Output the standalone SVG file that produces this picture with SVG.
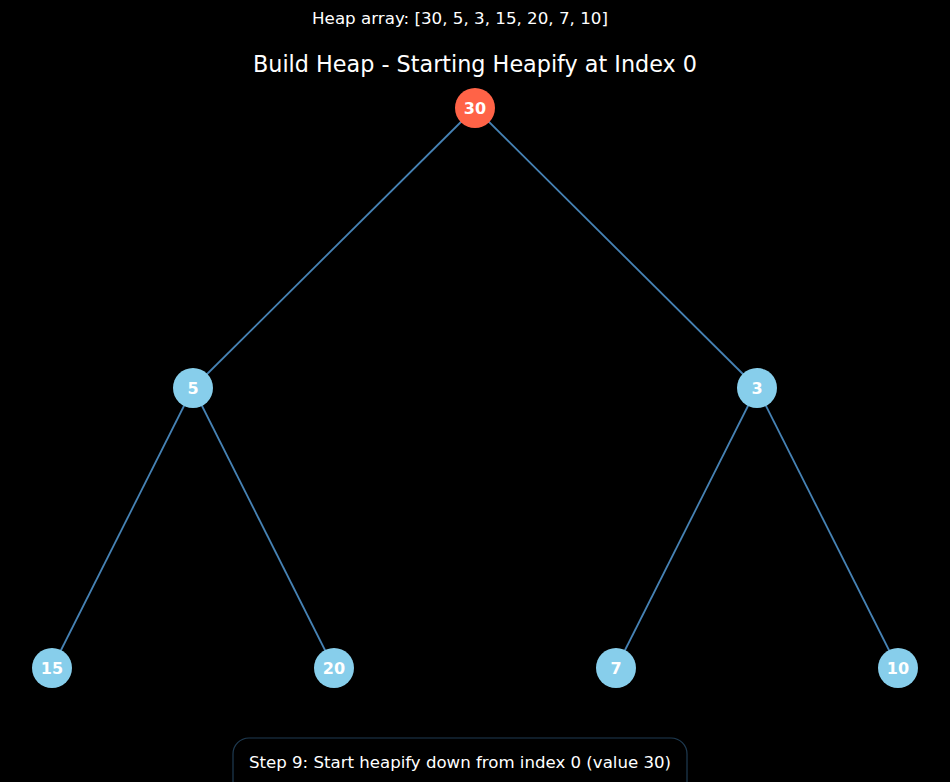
<svg xmlns="http://www.w3.org/2000/svg" width="950" height="782" viewBox="0 0 950 782">
<style>
.edge{stroke:#4682B4;stroke-width:1.8;fill:none}
.node{fill:#87CEEB}
.root{fill:#FF6347}
.lbl{font-family:"DejaVu Sans",sans-serif;font-size:16px;font-weight:bold;fill:#fff;text-anchor:middle}
.txt{font-family:"DejaVu Sans",sans-serif;fill:#fff;text-anchor:middle}
</style>
<rect width="950" height="782" fill="#000"/>
<text class="txt" x="460" y="24" font-size="16.7">Heap array: [30, 5, 3, 15, 20, 7, 10]</text>
<text class="txt" x="475" y="72" font-size="22.3">Build Heap - Starting Heapify at Index 0</text>
<g id="edges">
<line class="edge" x1="475" y1="108" x2="193" y2="388"/>
<line class="edge" x1="475" y1="108" x2="757" y2="388"/>
<line class="edge" x1="193" y1="388" x2="52" y2="668"/>
<line class="edge" x1="193" y1="388" x2="334" y2="668"/>
<line class="edge" x1="757" y1="388" x2="616" y2="668"/>
<line class="edge" x1="757" y1="388" x2="898" y2="668"/>
</g>
<g id="n0"><circle class="root" cx="475" cy="108" r="20"/><text class="lbl" x="475" y="114">30</text></g>
<g id="n1"><circle class="node" cx="193" cy="388" r="20"/><text class="lbl" x="193" y="394">5</text></g>
<g id="n2"><circle class="node" cx="757" cy="388" r="20"/><text class="lbl" x="757" y="394">3</text></g>
<g id="n3"><circle class="node" cx="52" cy="668" r="20"/><text class="lbl" x="52" y="674">15</text></g>
<g id="n4"><circle class="node" cx="334" cy="668" r="20"/><text class="lbl" x="334" y="674">20</text></g>
<g id="n5"><circle class="node" cx="616" cy="668" r="20"/><text class="lbl" x="616" y="674">7</text></g>
<g id="n6"><circle class="node" cx="898" cy="668" r="20"/><text class="lbl" x="898" y="674">10</text></g>
<g id="status">
<rect x="233" y="738" width="454" height="60" rx="16" fill="#000" stroke="#1f3b52" stroke-width="1.2"/>
<text class="txt" x="460" y="768" font-size="16.6">Step 9: Start heapify down from index 0 (value 30)</text>
</g>
</svg>
